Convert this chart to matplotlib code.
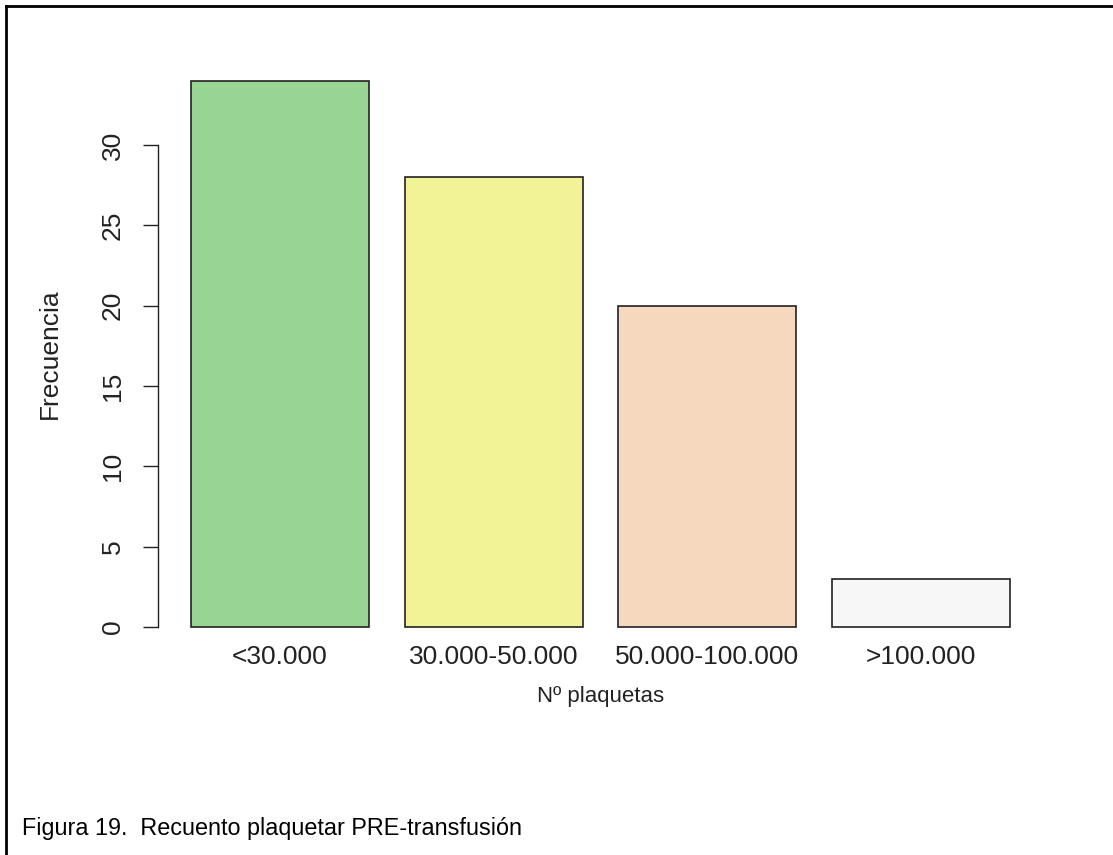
import matplotlib
matplotlib.use("Agg")
import matplotlib.pyplot as plt
from matplotlib.lines import Line2D

categories = ["<30.000", "30.000-50.000", "50.000-100.000", ">100.000"]
values = [34, 28, 20, 3]
colors = ["#98D492", "#F2F296", "#F6D8BF", "#F7F7F7"]
yticks = [0, 5, 10, 15, 20, 25, 30]

plt.rcParams['font.family'] = ['Liberation Sans', 'DejaVu Sans']

fig = plt.figure(figsize=(11.13, 8.55), dpi=100)
ax = fig.add_axes([158/1113, 1 - 649/855, (1043-158)/1113, (649-59)/855])

# R barplot geometry: width 1, space 0.2
xs = [0.2 + i * 1.2 + 0.5 for i in range(len(values))]
ax.bar(xs, values, width=1.0, color=colors, edgecolor="#222222", linewidth=1.2)

ax.set_xlim(0.016, 4.984)
ax.set_ylim(-1.36, 35.36)

for s in ["top", "right", "bottom"]:
    ax.spines[s].set_visible(False)
ax.spines["left"].set_bounds(0, 30)
ax.spines["left"].set_color("#222222")
ax.spines["left"].set_linewidth(1.0)

ax.set_yticks(yticks)
ax.set_yticklabels([str(v) for v in yticks], rotation=90, va="center", fontsize=19, color="#222222")
ax.tick_params(axis="y", length=11, width=1.0, color="#222222", pad=13)

ax.set_xticks(xs)
ax.set_xticklabels(categories, fontsize=19, color="#222222")
ax.tick_params(axis="x", length=0, pad=-3)

ax.set_ylabel("Frecuencia", fontsize=19, color="#222222", labelpad=28)
ax.set_xlabel("Nº plaquetas", fontsize=16, color="#222222", labelpad=12)

# caption
fig.text(22/1113, 1 - 828/855, "Figura 19.  Recuento plaquetar PRE-transfusión",
         fontsize=16.8, color="#000000", va="center", ha="left")

# partial border (left and top)
fig.add_artist(Line2D([6/1113, 6/1113], [0, 1 - 6/855], transform=fig.transFigure, color="black", linewidth=2))
fig.add_artist(Line2D([6/1113, 1], [1 - 6/855, 1 - 6/855], transform=fig.transFigure, color="black", linewidth=2))

fig.savefig("out.png", dpi=100)
